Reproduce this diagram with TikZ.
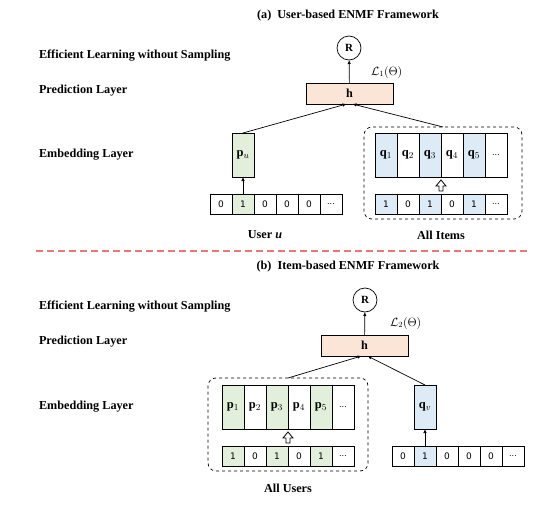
\documentclass[tikz,border=0pt]{standalone}
\usepackage{fontspec}
\setmainfont{Liberation Serif}
\newfontfamily\cellfont{DejaVu Sans}
\newcommand*{\labelfont}{\bfseries\fontsize{12.2}{14}\selectfont}
\newcommand*{\more}{{\cellfont\fontsize{8}{10}\selectfont ...}}
\definecolor{G}{RGB}{226,239,218}
\definecolor{B}{RGB}{221,235,247}
\definecolor{H}{RGB}{251,229,214}
\definecolor{D}{RGB}{232,120,120}
\usetikzlibrary{arrows.meta}
\usetikzlibrary{positioning}
\tikzstyle{base}=[x=1pt, y=-1pt, inner sep=0pt, outer sep=0pt, line width=0.7pt, >={Latex[length=4pt,width=3.5pt]}]
\tikzstyle{layer}=[anchor=west, font=\labelfont]
\tikzstyle{caption}=[font=\labelfont]
\tikzstyle{cell}=[draw, minimum width=22pt, minimum height=20pt, font=\cellfont\fontsize{9}{10}\selectfont]
\tikzstyle{emb}=[draw, minimum width=22pt, minimum height=44pt, font=\fontsize{12.5}{13}\selectfont]
\tikzstyle{pred}=[draw, fill=H, minimum width=87pt, minimum height=21pt, font=\labelfont]
\tikzstyle{result}=[draw, circle, minimum size=24pt, font=\bfseries\fontsize{11}{12}\selectfont]
\tikzstyle{group}=[draw, dashed, rounded corners=8pt]
\tikzstyle{lift}=[draw, fill=white, line width=0.8pt, line join=miter]
\tikzstyle{loss}=[anchor=west, font=\fontsize{12}{13}\selectfont]

\begin{document}
\begin{tikzpicture}[base]
    \path [use as bounding box] (0,0) rectangle (554,506);

    % (a) user-based
    \node [caption] (titlea) at (348,16) {(a)\ \ User-based ENMF Framework};
    \node [layer] (effa) at (39,56) {Efficient Learning without Sampling};
    \node [layer] (preda) at (39,91) {Prediction Layer};
    \node [layer] (emba) at (39,155) {Embedding Layer};
    \node [result] (ra) at (349,48) {R};
    \node [pred] (ha) at (349.5,93.5) {h};
    \node [loss] (la) at (371,72) {$\mathcal{L}_1(\Theta)$};
    \node [emb, fill=G] (pu) at (243,155) {$\mathbf{p}_u$};
    \foreach \v/\c [count=\i] in {0/white,1/G,0/white,0/white,0/white,\more/white}
        \node [cell, fill=\c] (ua\i) at (199 + 22*\i,204) {\v};
    \node [group, minimum width=158pt, minimum height=92pt] (items) at (443,173) {};
    \foreach \c [count=\i] in {B,white,B,white,B,white}
        \node [emb, fill=\c] (qa\i) at (364 + 22*\i,155) {\ifnum\i<6 $\mathbf{q}_{\i}$\else\more\fi};
    \foreach \v/\c [count=\i] in {1/B,0/white,1/B,0/white,1/B,\more/white}
        \node [cell, fill=\c] (ia\i) at (364 + 22*\i,204) {\v};
    \coordinate (lifta) at (441,191);
    \draw [lift] (lifta) ++(-2,0) -- ++(0,-5) -- ++(-3,0) -- ++(5,-6) -- ++(5,6) -- ++(-3,0) -- ++(0,5) -- cycle;
    \node [caption] (usera) at (265,235) {User \textit{u}};
    \node [caption] (allitems) at (441,235) {All Items};

    \draw [->] (ha) -- (ra);
    \draw [->] (pu.north) -- ([xshift=-3pt]ha.south);
    \draw [->] (items.north) -- ([xshift=3pt]ha.south);
    \draw [->] (ua2) -- (pu);

    % divider
    \coordinate (sepl) at (36,251);
    \coordinate (sepr) at (530,251);
    \draw [D, line width=1.5pt, dash pattern=on 7pt off 4pt] (sepl) -- (sepr);

    % (b) item-based
    \node [caption] (titleb) at (348,267) {(b)\ \ Item-based ENMF Framework};
    \node [layer] (effb) at (39,307) {Efficient Learning without Sampling};
    \node [layer] (predb) at (39,342) {Prediction Layer};
    \node [layer] (embb) at (39,407) {Embedding Layer};
    \node [result] (rb) at (365,300) {R};
    \node [pred] (hb) at (364.5,345.5) {h};
    \node [loss] (lb) at (390,323) {$\mathcal{L}_2(\Theta)$};
    \node [group, minimum width=160pt, minimum height=93pt] (users) at (288,424.5) {};
    \foreach \c [count=\i] in {G,white,G,white,G,white}
        \node [emb, fill=\c] (pb\i) at (211 + 22*\i,407) {\ifnum\i<6 $\mathbf{p}_{\i}$\else\more\fi};
    \foreach \v/\c [count=\i] in {1/G,0/white,1/G,0/white,1/G,\more/white}
        \node [cell, fill=\c] (ub\i) at (211 + 22*\i,456) {\v};
    \coordinate (liftb) at (288,443);
    \draw [lift] (liftb) ++(-2,0) -- ++(0,-5) -- ++(-3,0) -- ++(5,-6) -- ++(5,6) -- ++(-3,0) -- ++(0,5) -- cycle;
    \node [emb, fill=B] (qv) at (425,407) {$\mathbf{q}_v$};
    \foreach \v/\c [count=\i] in {0/white,1/B,0/white,0/white,0/white,\more/white}
        \node [cell, fill=\c] (vb\i) at (381 + 22*\i,456) {\v};
    \node [caption] (allusers) at (288,488) {All Users};

    \draw [->] (hb) -- (rb);
    \draw [->] (users.north) -- ([xshift=-3pt]hb.south);
    \draw [->] (qv.north) -- ([xshift=3pt]hb.south);
    \draw [->] (vb2) -- (qv);
\end{tikzpicture}
\end{document}
